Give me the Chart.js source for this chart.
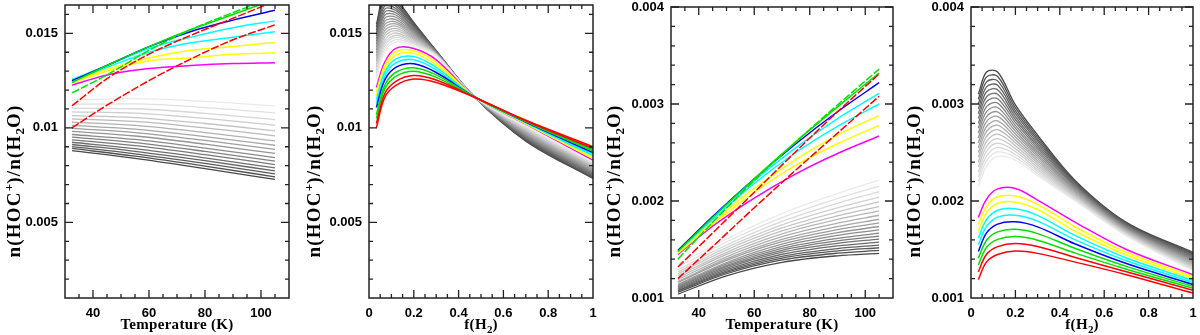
<!DOCTYPE html>
<html><head><meta charset="utf-8">
<script src="https://cdn.jsdelivr.net/npm/chart.js@4.4.1/dist/chart.umd.min.js"></script>
<style>
html,body{margin:0;padding:0;background:#fff;}
#wrap{position:relative;width:1200px;height:335px;overflow:hidden;}
.panel{position:absolute;top:0;width:300px;height:335px;}
canvas{display:block;}
</style></head><body>
<div id="wrap">
<div class="panel" style="left:0px"><canvas id="c1" width="300" height="335"></canvas></div>
<div class="panel" style="left:300px"><canvas id="c2" width="300" height="335"></canvas></div>
<div class="panel" style="left:600px"><canvas id="c3" width="300" height="335"></canvas></div>
<div class="panel" style="left:900px"><canvas id="c4" width="300" height="335"></canvas></div>
</div>
<script>
// ---------- DATA ----------
// colour order of the coloured curves (low -> high)
const seriesColors = ['#ff0000','#ff0000','#00e000','#00e000','#0000ff','#00ffff','#00ffff','#ffff00','#ffff00','#ff00ff'];
const dashedInT = [true,true,true,false,false,false,false,false,false,false];

// Panel 1 : ratio vs Temperature (upper scale)
const p1Temp = [32.5, 45, 60, 75, 90, 105];
const p1Colored = [
  [0.0100, 0.0112, 0.0125, 0.01365, 0.01466, 0.01545],
  [0.01117, 0.0126, 0.0139, 0.0149, 0.0158, 0.0167],
  [0.01185, 0.0128, 0.0141, 0.0152, 0.0161, 0.0169],
  [0.0124, 0.0133, 0.0143, 0.0152, 0.0160, 0.0168],
  [0.0125, 0.0133, 0.0143, 0.0151, 0.0157, 0.01622],
  [0.01256, 0.0133, 0.0142, 0.0148, 0.0153, 0.01566],
  [0.01252, 0.0132, 0.0140, 0.0145, 0.0148, 0.01508],
  [0.01245, 0.0131, 0.0137, 0.0141, 0.0143, 0.01452],
  [0.01238, 0.0130, 0.01355, 0.0137, 0.0139, 0.01397],
  [0.01226, 0.0128, 0.01314, 0.0133, 0.0134, 0.01344]
];
const p1GrayTemp = [32.5, 55, 80, 105];
const p1Gray = [
  [0.01147, 0.011545, 0.011398, 0.01116],
  [0.01125, 0.011269, 0.011075, 0.01079],
  [0.01104, 0.011011, 0.010768, 0.01044],
  [0.01085, 0.010783, 0.010501, 0.01014],
  [0.01065, 0.010542, 0.010231, 0.00984],
  [0.01048, 0.01034, 0.009997, 0.00958],
  [0.0103, 0.010127, 0.009754, 0.00931],
  [0.01013, 0.009934, 0.009539, 0.00908],
  [0.00997, 0.00975, 0.009335, 0.00886],
  [0.00981, 0.00957, 0.009138, 0.00865],
  [0.00965, 0.009387, 0.008933, 0.00843],
  [0.00951, 0.009221, 0.008756, 0.00824],
  [0.00937, 0.009059, 0.008585, 0.00806],
  [0.00924, 0.008904, 0.008417, 0.00788],
  [0.00912, 0.008762, 0.008266, 0.00772],
  [0.00901, 0.008629, 0.00812, 0.00757],
  [0.00891, 0.008501, 0.007975, 0.00741],
  [0.0088, 0.008382, 0.007841, 0.00727]
];

// Panel 2 : ratio vs f(H2) (upper scale)
const p2F = [0.033, 0.07, 0.12, 0.2, 0.3, 0.47, 0.7, 1.0];
const p2Colored = [
  [0.0100, 0.0116, 0.012245, 0.01258, 0.0124, 0.01162, 0.0104, 0.0090],
  [0.01023, 0.011805, 0.012465, 0.01277, 0.01253, 0.01163, 0.01038, 0.00892],
  [0.0105, 0.01205, 0.012725, 0.0130, 0.01267, 0.01163, 0.01036, 0.00884],
  [0.01071, 0.012248, 0.012942, 0.01318, 0.0128, 0.01164, 0.01033, 0.00877],
  [0.01108, 0.012525, 0.0132, 0.01339, 0.01293, 0.01165, 0.01031, 0.00869],
  [0.01129, 0.012741, 0.013443, 0.0136, 0.01307, 0.01165, 0.01029, 0.00861],
  [0.0115, 0.012932, 0.013648, 0.01377, 0.0132, 0.01166, 0.01027, 0.00853],
  [0.01169, 0.013116, 0.013852, 0.01394, 0.01333, 0.01167, 0.01024, 0.00846],
  [0.0119, 0.013295, 0.014038, 0.01408, 0.01347, 0.01167, 0.01022, 0.00838],
  [0.01214, 0.013473, 0.014204, 0.0142, 0.0136, 0.01168, 0.0102, 0.0083]
];
// gray curves, one column per f sample (lightest -> darkest)
const p2GrayCols = [
  [0.01261,0.01276,0.01291,0.01306,0.01321,0.01336,0.01352,0.01367,0.01382,0.01397,0.01412,0.01427,0.01442,0.01457,0.01472,0.01487,0.01503,0.01518,0.01533,0.01548],
  [0.01400,0.01416,0.01433,0.01449,0.01465,0.01482,0.01498,0.01514,0.01531,0.01547,0.01563,0.01579,0.01596,0.01612,0.01628,0.01645,0.01661,0.01677,0.01694,0.01710],
  [0.01455,0.01467,0.01479,0.01490,0.01502,0.01514,0.01526,0.01538,0.01550,0.01561,0.01573,0.01585,0.01597,0.01609,0.01621,0.01632,0.01644,0.01656,0.01668,0.01680],
  [0.01435,0.01441,0.01448,0.01454,0.01461,0.01467,0.01474,0.01480,0.01487,0.01493,0.01500,0.01506,0.01513,0.01519,0.01526,0.01532,0.01539,0.01545,0.01552,0.01558],
  [0.01380,0.01382,0.01383,0.01385,0.01386,0.01388,0.01389,0.01391,0.01392,0.01394,0.01395,0.01397,0.01398,0.01400,0.01401,0.01403,0.01404,0.01406,0.01407,0.01409],
  [0.01166,0.01166,0.01166,0.01166,0.01166,0.01166,0.01166,0.01165,0.01165,0.01165,0.01165,0.01165,0.01165,0.01165,0.01164,0.01164,0.01164,0.01164,0.01164,0.01164],
  [0.01010,0.01006,0.01002,0.00997,0.00993,0.00989,0.00985,0.00981,0.00976,0.00972,0.00968,0.00964,0.00959,0.00955,0.00951,0.00947,0.00943,0.00938,0.00934,0.00930],
  [0.00820,0.00815,0.00811,0.00806,0.00801,0.00797,0.00792,0.00788,0.00783,0.00778,0.00774,0.00769,0.00764,0.00760,0.00755,0.00751,0.00746,0.00741,0.00737,0.00732]
];

// Panel 3 : ratio vs Temperature (lower scale)
const p3Temp = [32.5, 45, 60, 75, 90, 105];
const p3Colored = [
  [0.00120, 0.00153, 0.00193, 0.00232, 0.00270, 0.00308],
  [0.00132, 0.00167, 0.00209, 0.00251, 0.00292, 0.00331],
  [0.00140, 0.00178, 0.00221, 0.00261, 0.00299, 0.00336],
  [0.00148, 0.00183, 0.00223, 0.00261, 0.00297, 0.00332],
  [0.00149, 0.00184, 0.00223, 0.00259, 0.00292, 0.00322],
  [0.00149, 0.00183, 0.00221, 0.00255, 0.00285, 0.00311],
  [0.00148, 0.00181, 0.00218, 0.00250, 0.00277, 0.00300],
  [0.00147, 0.00178, 0.00213, 0.00243, 0.00268, 0.00288],
  [0.00146, 0.00176, 0.00209, 0.00237, 0.00259, 0.00278],
  [0.00145, 0.00174, 0.00203, 0.00228, 0.00249, 0.00267]
];
const p3GrayTemp = [32.5, 50, 70, 90, 105];
const p3Gray = [
  [0.00135, 0.00161, 0.00187, 0.002077, 0.002216],
  [0.00132, 0.001577, 0.001828, 0.002025, 0.002154],
  [0.00129, 0.001545, 0.001789, 0.001976, 0.002096],
  [0.00127, 0.00152, 0.001754, 0.00193, 0.002041],
  [0.00125, 0.001496, 0.001722, 0.001887, 0.00199],
  [0.00123, 0.001471, 0.001691, 0.001847, 0.001942],
  [0.00121, 0.001449, 0.001662, 0.00181, 0.001898],
  [0.00119, 0.001425, 0.001632, 0.001771, 0.001853],
  [0.00117, 0.001403, 0.001604, 0.001736, 0.001812],
  [0.00116, 0.001388, 0.001581, 0.001705, 0.001774],
  [0.00114, 0.001366, 0.001555, 0.001673, 0.001737],
  [0.00113, 0.001352, 0.001533, 0.001645, 0.001703],
  [0.00112, 0.001336, 0.001511, 0.001615, 0.001668],
  [0.00111, 0.001323, 0.001492, 0.001589, 0.001638],
  [0.0011, 0.001308, 0.001472, 0.001563, 0.001607],
  [0.00109, 0.001293, 0.001451, 0.001537, 0.001576],
  [0.00108, 0.001278, 0.00143, 0.00151, 0.001545],
  [0.00107, 0.001264, 0.001411, 0.001486, 0.001518],
  [0.00106, 0.00125, 0.001392, 0.001462, 0.00149],
  [0.00104, 0.001229, 0.001368, 0.001435, 0.00146]
];

// Panel 4 : ratio vs f(H2) (lower scale)
const p4F = [0.033, 0.07, 0.12, 0.2, 0.3, 0.47, 0.7, 1.0];
const p4Colored = [
  [0.00119, 0.001372, 0.001449, 0.001484, 0.00146, 0.00137, 0.00124, 0.00105],
  [0.00127, 0.001451, 0.00153, 0.001562, 0.001531, 0.001418, 0.00127, 0.00108],
  [0.00134, 0.001522, 0.001604, 0.001633, 0.001596, 0.001463, 0.001297, 0.0011],
  [0.00141, 0.001596, 0.001682, 0.001708, 0.001664, 0.00151, 0.001326, 0.00112],
  [0.00148, 0.001671, 0.001762, 0.001785, 0.001733, 0.001556, 0.001355, 0.00114],
  [0.00155, 0.00174, 0.001834, 0.001853, 0.001793, 0.001599, 0.001384, 0.00116],
  [0.00162, 0.001809, 0.001905, 0.00192, 0.001852, 0.001643, 0.001413, 0.00118],
  [0.00169, 0.001878, 0.001976, 0.001988, 0.001912, 0.001688, 0.001443, 0.0012],
  [0.00176, 0.001945, 0.002044, 0.002052, 0.001966, 0.001732, 0.001471, 0.00122],
  [0.00183, 0.00202, 0.002125, 0.002128, 0.00201, 0.00178, 0.0015, 0.00124]
];
const p4GrayCols = [
  [0.00215,0.0022,0.00225,0.0023,0.00235,0.0024,0.00245,0.0025,0.00255,0.0026,0.00265,0.0027,0.00275,0.0028,0.00285,0.0029,0.00295,0.003,0.00305,0.0031],
  [0.00236,0.002411,0.002462,0.002513,0.002564,0.002615,0.002666,0.002717,0.002768,0.002819,0.002871,0.002922,0.002973,0.003024,0.003075,0.003126,0.003177,0.003228,0.003279,0.00333],
  [0.00246,0.002506,0.002552,0.002597,0.002643,0.002689,0.002735,0.002781,0.002826,0.002872,0.002918,0.002964,0.003009,0.003055,0.003101,0.003147,0.003193,0.003238,0.003284,0.00333],
  [0.00242,0.00245,0.00248,0.00251,0.00254,0.00257,0.0026,0.00263,0.00266,0.00269,0.00272,0.00275,0.00278,0.00281,0.00284,0.00287,0.0029,0.00293,0.00296,0.00299],
  [0.00226,0.002282,0.002304,0.002326,0.002348,0.002371,0.002393,0.002415,0.002437,0.002459,0.002481,0.002503,0.002525,0.002547,0.002569,0.002592,0.002614,0.002636,0.002658,0.00268],
  [0.002,0.002011,0.002022,0.002033,0.002044,0.002055,0.002066,0.002077,0.002088,0.002099,0.002111,0.002122,0.002133,0.002144,0.002155,0.002166,0.002177,0.002188,0.002199,0.00221],
  [0.00164,0.001647,0.001655,0.001662,0.001669,0.001677,0.001684,0.001692,0.001699,0.001706,0.001714,0.001721,0.001728,0.001736,0.001743,0.001751,0.001758,0.001765,0.001773,0.00178],
  [0.00128,0.00129,0.0013,0.00131,0.00132,0.00133,0.00134,0.00135,0.00136,0.00137,0.00138,0.00139,0.0014,0.00141,0.00142,0.00143,0.00144,0.00145,0.00146,0.00147]
];

// tick labels
const tempTicks = [40, 60, 80, 100];
const fracTicks = [0, 0.2, 0.4, 0.6, 0.8, 1];
const upperYTicks = [0.005, 0.01, 0.015];
const lowerYTicks = [0.001, 0.002, 0.003, 0.004];

// ---------- BUILD ----------
const transpose = cols => cols[0].map((_, j) => cols.map(c => c[j]));
function grayColor(j, n) {
  const g = Math.round(234 - (234 - 72) * j / (n - 1));
  return `rgb(${g},${g},${g})`;
}
function buildDatasets(cx, colored, gx, gray, dashed, smooth) {
  const ds = [];
  colored.forEach((row, i) => ds.push(Object.assign({
    data: cx.map((x, k) => ({x, y: row[k]})),
    borderColor: seriesColors[i], borderWidth: 1.5,
    borderDash: dashed && dashed[i] ? [8, 2] : [],
    pointRadius: 0, fill: false, order: 0
  }, smooth)));
  gray.forEach((row, j) => ds.push(Object.assign({
    data: gx.map((x, k) => ({x, y: row[k]})),
    borderColor: grayColor(j, gray.length), borderWidth: 1.3,
    pointRadius: 0, fill: false, order: 1
  }, smooth)));
  return ds;
}

const tickFont = {family: '"Liberation Sans", Arial, sans-serif', size: 13, weight: 'bold'};
const titleFontBig = 'bold 15px "Liberation Serif", "Times New Roman", serif';
const titleFontSmall = 'bold 11px "Liberation Serif", "Times New Roman", serif';
const yFontBig = 'bold 19px "Liberation Serif", "Times New Roman", serif';
const yFontSmall = 'bold 13px "Liberation Serif", "Times New Roman", serif';

function drawRich(ctx, segs, big, small, sup, sub, spacing) {
  let w = 0;
  segs.forEach(s => {
    ctx.font = s.s ? small : big;
    ctx.letterSpacing = s.s ? '0px' : spacing;
    s.w = ctx.measureText(s.t).width; w += s.w;
  });
  let x = -w / 2;
  segs.forEach(s => {
    ctx.font = s.s ? small : big;
    ctx.letterSpacing = s.s ? '0px' : spacing;
    ctx.fillText(s.t, x, s.s === 'sup' ? -sup : s.s === 'sub' ? sub : 0);
    x += s.w;
  });
  ctx.letterSpacing = '0px';
}

const framePlugin = {
  id: 'frame',
  afterDatasetsDraw(chart) {
    const o = chart.options.plugins.frame;
    const {ctx, chartArea: a} = chart;
    const xs = chart.scales.x, ys = chart.scales.y;
    ctx.save();
    ctx.strokeStyle = '#222';
    ctx.lineWidth = 1.3;
    ctx.beginPath();
    const isMajor = (v, majors, step) => majors.some(m => Math.abs(m - v) < step * 0.01);
    const nx = Math.round((xs.max - xs.min) / o.xMinor);
    for (let k = 1; k < nx; k++) {
      const v = xs.min + k * o.xMinor;
      const len = isMajor(v, o.xMajor, o.xMinor) ? 8 : 4;
      const p = xs.getPixelForValue(v);
      ctx.moveTo(p, a.bottom); ctx.lineTo(p, a.bottom - len);
      ctx.moveTo(p, a.top); ctx.lineTo(p, a.top + len);
    }
    const ny = Math.round((ys.max - ys.min) / o.yMinor);
    for (let k = 1; k < ny + 1; k++) {
      const v = ys.min + k * o.yMinor;
      if (v > ys.max + o.yMinor * 0.01) break;
      const len = isMajor(v, o.yMajor, o.yMinor) ? 8 : 4;
      const p = ys.getPixelForValue(v);
      ctx.moveTo(a.left, p); ctx.lineTo(a.left + len, p);
      ctx.moveTo(a.right, p); ctx.lineTo(a.right - len, p);
    }
    ctx.stroke();
    ctx.lineWidth = 1.5;
    ctx.strokeRect(a.left, a.top, a.right - a.left, a.bottom - a.top);
    ctx.restore();
  },
  afterDraw(chart) {
    const o = chart.options.plugins.frame;
    const {ctx, chartArea: a} = chart;
    ctx.save();
    ctx.fillStyle = '#000';
    ctx.textBaseline = 'alphabetic';
    ctx.textAlign = 'left';
    ctx.save();
    ctx.translate((a.left + a.right) / 2, 329);
    drawRich(ctx, o.xTitle, titleFontBig, titleFontSmall, 6, 4, '0.3px');
    ctx.restore();
    ctx.save();
    ctx.translate(20, 181);
    ctx.rotate(-Math.PI / 2);
    drawRich(ctx, o.yTitle, yFontBig, yFontSmall, 7, 4, '1.2px');
    ctx.restore();
    ctx.restore();
  }
};

const yTitleSegs = [{t: 'n(HOC'}, {t: '+', s: 'sup'}, {t: ')/n(H'}, {t: '2', s: 'sub'}, {t: 'O)'}];
const tempTitle = [{t: 'Temperature (K)'}];
const fracTitle = [{t: 'f(H'}, {t: '2', s: 'sub'}, {t: ')'}];

function makeChart(id, area, xCfg, yCfg, datasets, xTitle) {
  new Chart(document.getElementById(id), {
    type: 'line',
    data: {datasets},
    options: {
      responsive: false, animation: false, events: [],
      layout: {padding: {left: 0, top: area.top, right: 300 - area.right, bottom: 0}},
      plugins: {
        legend: {display: false}, tooltip: {enabled: false},
        frame: {xMajor: xCfg.ticks, xMinor: xCfg.minor, yMajor: yCfg.ticks, yMinor: yCfg.minor,
                xTitle, yTitle: yTitleSegs}
      },
      scales: {
        x: {
          type: 'linear', min: xCfg.min, max: xCfg.max,
          grid: {display: false, drawTicks: false}, border: {display: false},
          ticks: {font: tickFont, color: '#000', padding: 8, maxRotation: 0, autoSkip: false,
                  callback: v => String(v)},
          afterBuildTicks: s => { s.ticks = xCfg.ticks.map(v => ({value: v})); },
          afterFit: s => { s.height = 335 - area.bottom; s.paddingLeft = 0; s.paddingRight = 0; }
        },
        y: {
          type: 'linear', min: yCfg.min, max: yCfg.max,
          grid: {display: false, drawTicks: false}, border: {display: false},
          ticks: {font: tickFont, color: '#000', padding: 7, autoSkip: false,
                  callback: v => String(v)},
          afterBuildTicks: s => { s.ticks = yCfg.ticks.map(v => ({value: v})); },
          afterFit: s => { s.width = area.left; s.paddingTop = 0; s.paddingBottom = 0; }
        }
      }
    },
    plugins: [framePlugin]
  });
}

const mono = {cubicInterpolationMode: 'monotone'};
const soft = {tension: 0.35};

makeChart('c1', {left: 65, right: 289, top: 5, bottom: 298},
  {min: 30, max: 110, ticks: tempTicks, minor: 5},
  {min: 0.001, max: 0.0165, ticks: upperYTicks, minor: 0.001},
  buildDatasets(p1Temp, p1Colored, p1GrayTemp, p1Gray, dashedInT, mono), tempTitle);

makeChart('c2', {left: 69, right: 293, top: 5, bottom: 298},
  {min: 0, max: 1, ticks: fracTicks, minor: 0.05},
  {min: 0.001, max: 0.0165, ticks: upperYTicks, minor: 0.001},
  buildDatasets(p2F, p2Colored, p2F, transpose(p2GrayCols), null, soft), fracTitle);

makeChart('c3', {left: 71, right: 293, top: 7, bottom: 298},
  {min: 30, max: 110, ticks: tempTicks, minor: 5},
  {min: 0.001, max: 0.004, ticks: lowerYTicks, minor: 0.0002},
  buildDatasets(p3Temp, p3Colored, p3GrayTemp, p3Gray, dashedInT, mono), tempTitle);

makeChart('c4', {left: 71, right: 293, top: 7, bottom: 298},
  {min: 0, max: 1, ticks: fracTicks, minor: 0.05},
  {min: 0.001, max: 0.004, ticks: lowerYTicks, minor: 0.0002},
  buildDatasets(p4F, p4Colored, p4F, transpose(p4GrayCols), null, soft), fracTitle);
</script>
</body></html>
